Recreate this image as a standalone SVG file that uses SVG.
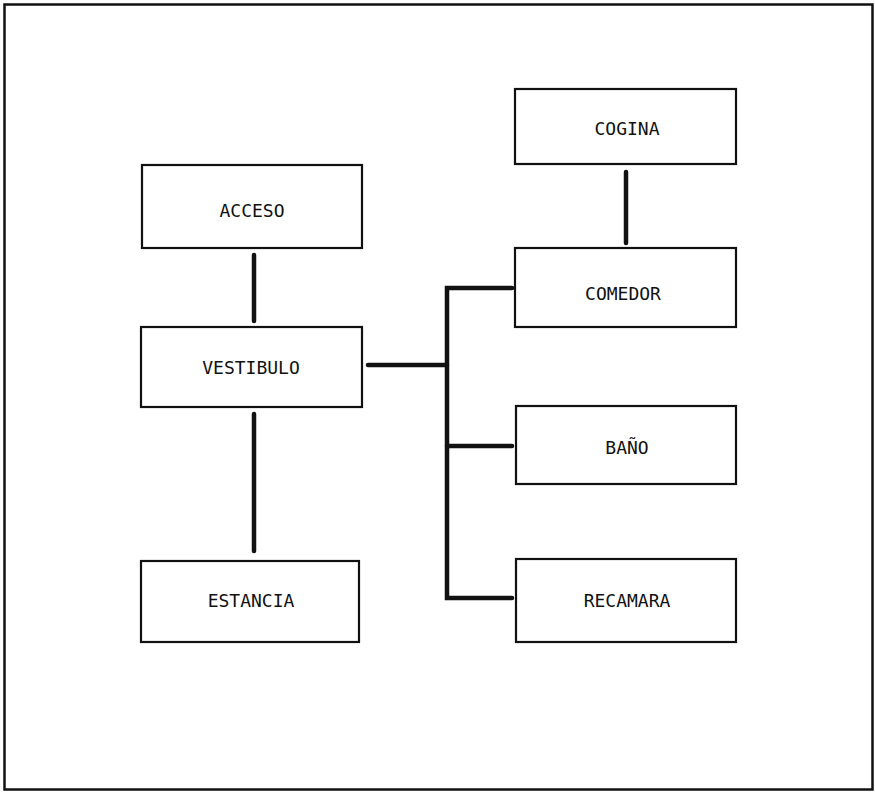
<svg xmlns="http://www.w3.org/2000/svg" width="875" height="793" viewBox="0 0 875 793">
<style>
.box{fill:#fff;stroke:#111;stroke-width:2.2}
.lbl{font-family:"DejaVu Sans Mono","Liberation Mono",monospace;font-size:18px;fill:#111;text-anchor:middle;dominant-baseline:central}
.con{fill:none;stroke:#111;stroke-width:4.5;stroke-linecap:round;stroke-linejoin:miter}
</style>
<rect x="0" y="0" width="875" height="793" fill="#fff"/>
<rect x="4.5" y="4.5" width="868" height="785" fill="none" stroke="#111" stroke-width="2.5"/>
<g id="connectors">
<line class="con" x1="254" y1="255" x2="254" y2="321"/>
<line class="con" x1="254" y1="414" x2="254" y2="551"/>
<line class="con" x1="626" y1="172" x2="626" y2="243"/>
<line class="con" x1="368" y1="365" x2="447" y2="365"/>
<polyline class="con" points="512,288 447,288 447,598 512,598"/>
<line class="con" x1="447" y1="446" x2="512" y2="446"/>
</g>
<g id="acceso"><rect class="box" x="142" y="165" width="220" height="83"/><text class="lbl" x="252" y="210">ACCESO</text></g>
<g id="vestibulo"><rect class="box" x="141" y="327" width="221" height="80"/><text class="lbl" x="251" y="367">VESTIBULO</text></g>
<g id="estancia"><rect class="box" x="141" y="561" width="218" height="81"/><text class="lbl" x="251" y="600">ESTANCIA</text></g>
<g id="cogina"><rect class="box" x="515" y="89" width="221" height="75"/><text class="lbl" x="627" y="128">COGINA</text></g>
<g id="comedor"><rect class="box" x="515" y="248" width="221" height="79"/><text class="lbl" x="623" y="293">COMEDOR</text></g>
<g id="bano"><rect class="box" x="516" y="406" width="220" height="78"/><text class="lbl" x="627" y="447">BAÑO</text></g>
<g id="recamara"><rect class="box" x="516" y="559" width="220" height="83"/><text class="lbl" x="627" y="600">RECAMARA</text></g>
</svg>
